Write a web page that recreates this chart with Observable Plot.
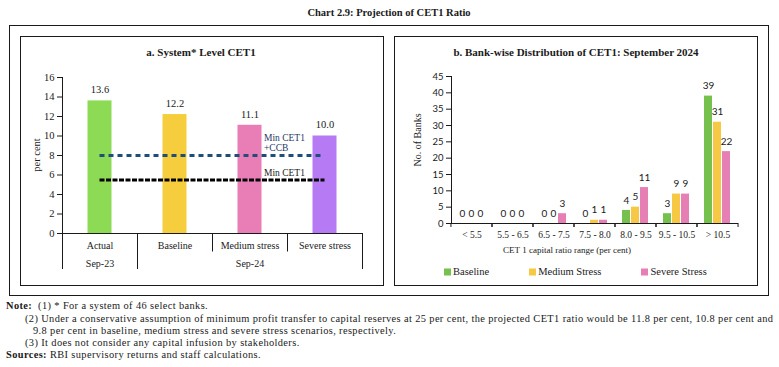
<!DOCTYPE html>
<html>
<head>
<meta charset="utf-8">
<script src="https://cdn.jsdelivr.net/npm/d3@7"></script>
<script src="https://cdn.jsdelivr.net/npm/@observablehq/plot@0.6"></script>
<style>
  html, body { margin: 0; padding: 0; background: #fff; }
  #page { position: relative; width: 779px; height: 367px; overflow: hidden; font-family: "Liberation Serif", "DejaVu Serif", serif; color: #1a1a1a; }
  .abs { position: absolute; }
  .box { position: absolute; box-sizing: border-box; border: 1.5px solid #1a1a1a; }
  .ctr { transform: translate(-50%, -50%); white-space: nowrap; }
  .note { position: absolute; font-size: 10.4px; letter-spacing: 0.38px; white-space: nowrap; line-height: 1; }
  .legend { position: absolute; display: flex; align-items: center; gap: 40px; font-size: 10.5px; transform: translateY(-50%); }
  .legend span.sw { display: inline-block; width: 7px; height: 7px; margin-right: 2px; vertical-align: middle; }
</style>
</head>
<body>
<div id="page">
  <div class="abs ctr" style="left:389px;top:12px;font-weight:bold;font-size:10.5px;">Chart 2.9: Projection of CET1 Ratio</div>
  <div class="box" style="left:9px;top:25px;width:760px;height:271px;"></div>
  <div class="box" style="left:20px;top:36px;width:364px;height:250px;"></div>
  <div class="box" style="left:394px;top:36px;width:364px;height:250px;"></div>
  <div class="abs ctr" style="left:201px;top:52px;font-weight:bold;font-size:11px;">a. System* Level CET1</div>
  <div class="abs ctr" style="left:576px;top:52px;font-weight:bold;font-size:11px;">b. Bank-wise Distribution of CET1: September 2024</div>
  <div class="abs ctr" style="left:36px;top:155px;font-size:10.5px;transform:translate(-50%,-50%) rotate(-90deg);">per cent</div>
  <div class="abs ctr" style="left:417px;top:140px;font-size:10px;transform:translate(-50%,-50%) rotate(-90deg);">No. of Banks</div>
  <div class="abs ctr" style="left:567px;top:250px;font-size:9px;">CET 1 capital ratio range (per cent)</div>
  <div id="chartA" class="abs" style="left:20px;top:37px;"></div>
  <div id="chartB" class="abs" style="left:394px;top:37px;"></div>
  <div id="legendB" class="legend" style="left:444px;top:271px;"></div>

  <div class="note" style="left:6px;top:301px;"><b>Note:</b>&nbsp; (1) * For a system of 46 select banks.</div>
  <div class="note" style="left:25px;top:314px;">(2) Under a conservative assumption of minimum profit transfer to capital reserves at 25 per cent, the projected CET1 ratio would be 11.8 per cent, 10.8 per cent and</div>
  <div class="note" style="left:33px;top:326px;">9.8 per cent in baseline, medium stress and severe stress scenarios, respectively.</div>
  <div class="note" style="left:25px;top:338px;">(3) It does not consider any capital infusion by stakeholders.</div>
  <div class="note" style="left:6px;top:350px;"><b>Sources:</b> RBI supervisory returns and staff calculations.</div>
</div>
<script>
// ---------- Data: panel a ----------
const scenariosA = ["Actual", "Baseline", "Medium stress", "Severe stress"];
const periodsA = ["Sep-23", "Sep-24", "Sep-24", "Sep-24"];
const cet1 = [13.6, 12.2, 11.1, 10.0];
const minCET1 = 5.5;
const minCET1CCB = 8.0;
const ticksA = [0, 2, 4, 6, 8, 10, 12, 14, 16];
const coloursA = ["#8DDB55", "#F6CD3C", "#E97EB7", "#B77AF5"];

// ---------- Data: panel b ----------
const ranges = ["< 5.5", "5.5 - 6.5", "6.5 - 7.5", "7.5 - 8.0", "8.0 - 9.5", "9.5 - 10.5", "> 10.5"];
const seriesB = ["Baseline", "Medium Stress", "Severe Stress"];
const baselineB = [0, 0, 0, 0, 4, 3, 39];
const mediumB = [0, 0, 0, 1, 5, 9, 31];
const severeB = [0, 0, 3, 1, 11, 9, 22];
const ticksB = [0, 5, 10, 15, 20, 25, 30, 35, 40, 45];
const coloursB = ["#76C04E", "#F6C843", "#E67FB4"];

const serif = "Liberation Serif";
const sans = "Lato";

// ---------- Panel a ----------
const rowsA = scenariosA.map((s, i) => ({ s, i, v: cet1[i], p: periodsA[i] }));
const groupsA = [];
periodsA.forEach((p, i) => {
  const g = groupsA[groupsA.length - 1];
  if (g && g.p === p) g.end = i + 1; else groupsA.push({ p, start: i, end: i + 1 });
});
const fullBounds = [...new Set(groupsA.flatMap(g => [g.start, g.end]))];
const shortBounds = d3.range(0, scenariosA.length + 1).filter(b => !fullBounds.includes(b));
const ccbLine = [{ label: "Min CET1\n+CCB", v: minCET1CCB }];
const minLine = [{ label: "Min CET1", v: minCET1 }];
const nA = scenariosA.length;
const labelCat = scenariosA.indexOf("Medium stress");

const plotA = Plot.plot({
  width: 363, height: 249,
  marginLeft: 42, marginRight: 21, marginTop: 40, marginBottom: 53,
  style: { fontFamily: serif, fontSize: "10.5px", background: "transparent", overflow: "visible", color: "#1a1a1a" },
  x: { domain: [0, nA], axis: null },
  y: { domain: [0, 16], ticks: ticksA, tickSize: 5, tickPadding: 3, line: true, label: null },
  color: { domain: scenariosA, range: coloursA },
  marks: [
    Plot.rectY(rowsA, { x1: "i", x2: d => d.i + 1, y1: 0, y2: "v", fill: "s", insetLeft: 25.5, insetRight: 25.5 }),
    Plot.ruleY([0], { x1: 0, x2: nA, stroke: "#1a1a1a" }),
    Plot.ruleX(fullBounds, { x: d => d, y1: 0, y2: 0, insetBottom: -36, stroke: "#1a1a1a" }),
    Plot.ruleX(shortBounds, { x: d => d, y1: 0, y2: 0, insetBottom: -18.5, stroke: "#1a1a1a" }),
    Plot.ruleY(ccbLine, { y: "v", x1: 0.5, x2: nA - 0.5, stroke: "#1F4E79", strokeWidth: 3, strokeDasharray: "5,4" }),
    Plot.ruleY(minLine, { y: "v", x1: 0.5, x2: nA - 0.5, stroke: "#000000", strokeWidth: 3, strokeDasharray: "5,1.5" }),
    Plot.text(ccbLine, { y: "v", x: labelCat + 0.5, dx: 14, dy: -5, text: "label", textAnchor: "start", lineAnchor: "bottom", fontSize: 9.5, lineHeight: 1, fill: "#1F3864" }),
    Plot.text(minLine, { y: "v", x: labelCat + 0.5, dx: 14, dy: -4, text: "label", textAnchor: "start", lineAnchor: "bottom", fontSize: 9.5, fill: "#1a1a1a" }),
    Plot.text(rowsA, { x: d => d.i + 0.5, y: "v", text: d => d.v.toFixed(1), dy: -11, fontSize: 10.5 }),
    Plot.text(rowsA, { x: d => d.i + 0.5, y: 0, text: "s", dy: 12, fontSize: 10 }),
    Plot.text(groupsA, { x: d => (d.start + d.end) / 2, y: 0, text: "p", dy: 30, fontSize: 10 })
  ]
});
document.getElementById("chartA").appendChild(plotA);

// ---------- Panel b ----------
const valuesB = [baselineB, mediumB, severeB];
const rowsB = ranges.flatMap((r, i) => seriesB.map((s, j) => ({ r, s, v: valuesB[j][i] })));
const W = 364, mL = 55, mR = 18;
const pIn = 0.1, pOut = 0.8;
const facetW = (W - mL - mR) / ranges.length;
const step = facetW / (seriesB.length - pIn + 2 * pOut);
const edgeOff = step * pOut + step * (1 - pIn) / 2;

const plotB = Plot.plot({
  width: W, height: 249,
  marginLeft: mL, marginRight: mR, marginTop: 39, marginBottom: 63,
  style: { fontFamily: sans, fontSize: "9.5px", background: "transparent", overflow: "visible", color: "#1a1a1a" },
  facet: { data: rowsB, x: "r" },
  fx: { domain: ranges, padding: 0, tickSize: 0, tickPadding: 8, label: null, axis: "bottom" },
  x: { domain: seriesB, paddingInner: pIn, paddingOuter: pOut, axis: null },
  y: { domain: [0, 45], ticks: ticksB, tickSize: 5, tickPadding: 3, line: true, label: null },
  color: { domain: seriesB, range: coloursB },
  marks: [
    Plot.barY(rowsB, { x: "s", y: "v", fill: "s" }),
    Plot.text(rowsB, { x: "s", y: "v", text: d => String(d.v), dy: -10, fontSize: 10, fontFamily: sans }),
    Plot.ruleY([0], { stroke: "#1a1a1a" }),
    Plot.ruleX([seriesB[0]], { x: d => d, y1: 0, y2: 0, insetBottom: -4, dx: -edgeOff, stroke: "#1a1a1a" }),
    Plot.ruleX([seriesB[seriesB.length - 1]], { x: d => d, y1: 0, y2: 0, insetBottom: -4, dx: edgeOff, stroke: "#1a1a1a" })
  ]
});
document.getElementById("chartB").appendChild(plotB);
d3.select(plotB).selectAll("[aria-label='fx-axis'] text, [aria-label='fx-axis tick label'] text").style("font-family", serif).style("font-size", "9.5px");

// legend
const leg = d3.select("#legendB");
seriesB.forEach((s, j) => {
  const item = leg.append("div");
  item.append("span").attr("class", "sw").style("background", coloursB[j]);
  item.append("span").text(s);
});
</script>
</body>
</html>
